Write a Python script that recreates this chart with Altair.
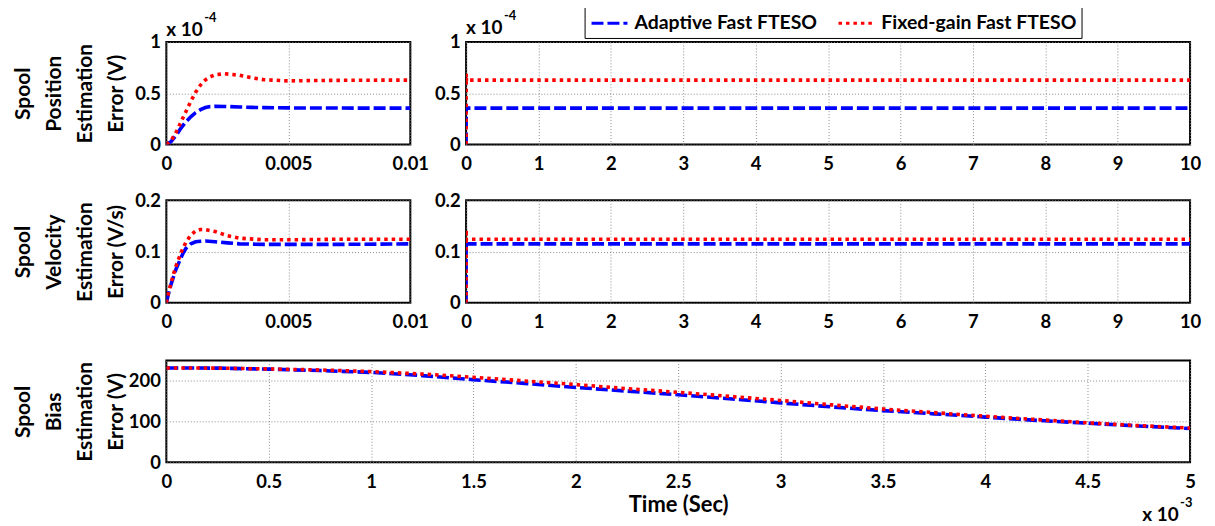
import altair as alt
import pandas as pd

FONT = "Lato"
SERIES = ["Adaptive Fast FTESO", "Fixed-gain Fast FTESO"]
COLORS = ["#0000ff", "#ff0000"]
DASHES = [[12, 4], [3.5, 4]]

# ---- Spool position estimation error (units of 1e-4 V), first 0.01 s ----
t_pos = [0, 0.0002, 0.0004, 0.0006, 0.0008, 0.001, 0.0012, 0.0014, 0.0016, 0.0018,
         0.002, 0.0024, 0.003, 0.0035, 0.004, 0.005, 0.006, 0.008, 0.01]
pos_adaptive = [0, 0.03, 0.09, 0.16, 0.22, 0.27, 0.31, 0.34, 0.36, 0.37,
                0.372, 0.371, 0.366, 0.362, 0.36, 0.357, 0.356, 0.355, 0.355]
pos_fixed = [0, 0.04, 0.12, 0.22, 0.32, 0.42, 0.51, 0.58, 0.63, 0.66,
             0.68, 0.69, 0.675, 0.65, 0.632, 0.62, 0.624, 0.627, 0.628]

# ---- long run (0..10 s) steady values ----
t_long = [1, 2, 3, 4, 5, 6, 7, 8, 9, 10]
pos_adaptive_long = [0.355, 0.355, 0.355, 0.355, 0.355, 0.355, 0.355, 0.355, 0.355, 0.355]
pos_fixed_long = [0.628, 0.628, 0.628, 0.628, 0.628, 0.628, 0.628, 0.628, 0.628, 0.628]

# ---- Spool velocity estimation error (V/s), first 0.01 s ----
t_vel = [0, 0.0001, 0.0002, 0.0003, 0.0004, 0.0005, 0.0006, 0.0007, 0.0008, 0.001,
         0.0012, 0.0014, 0.0016, 0.002, 0.0025, 0.003, 0.004, 0.005, 0.007, 0.01]
vel_adaptive = [0, 0.02, 0.037, 0.052, 0.066, 0.077, 0.088, 0.098, 0.106, 0.115,
                0.119, 0.120, 0.1205, 0.119, 0.117, 0.115, 0.114, 0.114, 0.114, 0.115]
vel_fixed = [0, 0.022, 0.04, 0.057, 0.072, 0.085, 0.098, 0.108, 0.118, 0.132,
             0.140, 0.143, 0.143, 0.139, 0.131, 0.126, 0.123, 0.123, 0.124, 0.124]
vel_adaptive_long = [0.115, 0.115, 0.115, 0.115, 0.115, 0.115, 0.115, 0.115, 0.115, 0.115]
vel_fixed_long = [0.124, 0.124, 0.124, 0.124, 0.124, 0.124, 0.124, 0.124, 0.124, 0.124]

# ---- Spool bias estimation error (V), time in units of 1e-3 s ----
t_bias = [0, 0.25, 0.5, 0.75, 1, 1.25, 1.5, 1.75, 2, 2.25, 2.5,
          2.75, 3, 3.25, 3.5, 3.75, 4, 4.25, 4.5, 4.75, 5]
bias_adaptive = [232, 231.5, 229, 225.5, 221, 213, 203, 194, 184, 175, 166,
                 156, 146, 136, 127, 119, 111, 103, 96, 89, 83]
bias_fixed = [232, 231.5, 229.5, 227, 223, 217, 209, 200, 191, 181, 172,
              162, 152, 141, 131, 122, 113, 105, 97, 90, 84]

LABEL_SIZE = 18.5
YTITLE_SIZE = 21
XTITLE_SIZE = 22
LEGEND_SIZE = 19.5


def frame(t, a, f):
    rows = [{"t": x, "v": y, "series": SERIES[0]} for x, y in zip(t, a)]
    rows += [{"t": x, "v": y, "series": SERIES[1]} for x, y in zip(t, f)]
    return pd.DataFrame(rows)


def label(text, x, y, size=19):
    return alt.Chart(pd.DataFrame({"s": [text]})).mark_text(
        align="left", baseline="middle", font=FONT, fontWeight="bold", fontSize=size, color="black"
    ).encode(x=alt.value(x), y=alt.value(y), text="s:N")


def panel(df, xdom, xvals, ydom, yvals, w, h, ytitle=None, xtitle=None):
    yaxis = dict(values=yvals, format="~r", labelPadding=6)
    if ytitle:
        yaxis.update(title=ytitle, titleAngle=270, titleX=-133, titleY=h / 2,
                     titleAlign="center", titleBaseline="bottom", titleLineHeight=31,
                     titleFontSize=YTITLE_SIZE)
    else:
        yaxis.update(title=None)
    xaxis = dict(values=xvals, format="~r", labelPadding=10)
    if xtitle:
        xaxis.update(title=xtitle, titleY=43, titleBaseline="middle", titleAlign="center",
                     titleFontSize=XTITLE_SIZE)
    else:
        xaxis.update(title=None)
    return alt.Chart(df).mark_line(strokeWidth=3.6, clip=True).encode(
        x=alt.X("t:Q", scale=alt.Scale(domain=xdom, nice=False, zero=False), axis=alt.Axis(**xaxis)),
        y=alt.Y("v:Q", scale=alt.Scale(domain=ydom, nice=False), axis=alt.Axis(**yaxis)),
        color=alt.Color("series:N", scale=alt.Scale(domain=SERIES, range=COLORS),
                        legend=alt.Legend(title=None)),
        strokeDash=alt.StrokeDash("series:N", scale=alt.Scale(domain=SERIES, range=DASHES),
                                  legend=alt.Legend(title=None)),
    ).properties(width=w, height=h)


pos_short = frame(t_pos, pos_adaptive, pos_fixed)
pos_long = frame(t_pos + t_long, pos_adaptive + pos_adaptive_long, pos_fixed + pos_fixed_long)
vel_short = frame(t_vel, vel_adaptive, vel_fixed)
vel_long = frame(t_vel + t_long, vel_adaptive + vel_adaptive_long, vel_fixed + vel_fixed_long)
bias = frame(t_bias, bias_adaptive, bias_fixed)

W_S, W_L, W_B, H = 245, 727, 1028, 103
xs_short = [0, 0.005, 0.01]
xs_long = [0, 1, 2, 3, 4, 5, 6, 7, 8, 9, 10]

p1 = alt.layer(
    panel(pos_short, [0, 0.01], xs_short, [0, 1], [0, 0.5, 1], W_S, H,
          ytitle=["Spool", "Position", "Estimation", "Error (V)"]),
    label("x 10", 0, -12), label("-4", 38, -24, 13),
)
p2 = alt.layer(
    panel(pos_long, [0, 10], xs_long, [0, 1], [0, 0.5, 1], W_L, H),
    label("x 10", 0, -14), label("-4", 38, -26, 13),
)
p3 = panel(vel_short, [0, 0.01], xs_short, [0, 0.2], [0, 0.1, 0.2], W_S, H,
           ytitle=["Spool", "Velocity", "Estimation", "Error (V/s)"])
p4 = panel(vel_long, [0, 10], xs_long, [0, 0.2], [0, 0.1, 0.2], W_L, H)
p5 = alt.layer(
    panel(bias, [0, 5], [0, 0.5, 1, 1.5, 2, 2.5, 3, 3.5, 4, 4.5, 5], [0, 250], [0, 100, 200], W_B, 102,
          ytitle=["Spool", "Bias", "Estimation", "Error (V)"], xtitle="Time (Sec)"),
    label("x 10", 980, 155), label("-3", 1018, 143, 13),
)

row1 = alt.hconcat(p1, p2, spacing=56, bounds="flush")
row2 = alt.hconcat(p3, p4, spacing=56, bounds="flush")
top = alt.vconcat(row1, row2, spacing=16)
chart = alt.vconcat(top, p5, spacing=27).properties(
    padding={"left": 4, "top": -12, "right": 5, "bottom": 0}
).configure_view(
    stroke="black", strokeWidth=2
).configure_axis(
    domain=False, ticks=False, grid=True, gridColor="#808080", gridDash=[1, 2], gridWidth=0.9,
    labelFont=FONT, labelFontWeight="bold", labelFontSize=LABEL_SIZE, labelColor="black",
    labelFlush=False, labelOverlap=False,
    titleFont=FONT, titleFontWeight="bold", titleColor="black",
).configure_legend(
    orient="none", legendX=420, legendY=-44, direction="horizontal", columns=2,
    strokeColor="black", fillColor="white", padding=5, cornerRadius=0,
    symbolType="stroke", symbolSize=1300, symbolStrokeWidth=3,
    labelFont=FONT, labelFontWeight="bold", labelFontSize=LEGEND_SIZE, labelColor="black",
    labelLimit=400, labelOffset=5, columnPadding=14,
)

chart.save("out.html", embed_options={"renderer": "svg", "actions": False})
